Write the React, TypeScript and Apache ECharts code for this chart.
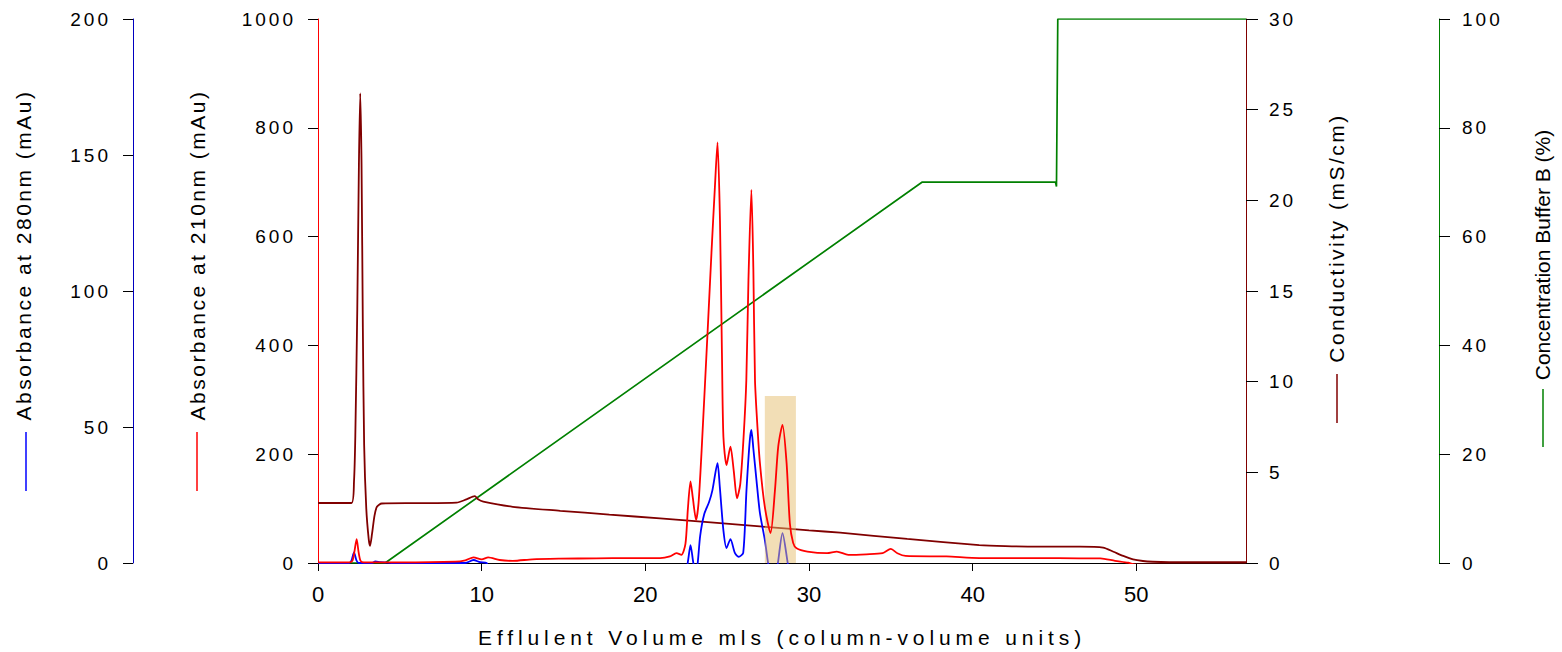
import React, { useEffect, useRef } from "react";
import * as echarts from "echarts";

// ---- data (x = effluent volume, y = value) ----
const xTicks = [0, 10, 20, 30, 40, 50];

const buffer: [number, number][] = [
  [0, 0], [4.1, 0], [36.9, 70], [45.06, 70], [45.12, 69.2], [45.2, 100], [56.7, 100],
];

const conductivity: [number, number][] = [
  [0, 3.31], [2.05, 3.31], [2.2, 4.5], [2.28, 7], [2.4, 14], [2.5, 22], [2.58, 25.9],
  [2.66, 22], [2.74, 13], [2.82, 6.5], [2.95, 3], [3.1, 1.3], [3.18, 0.95], [3.3, 1.6],
  [3.45, 2.6], [3.6, 3.1], [3.9, 3.28], [6, 3.3], [8.46, 3.33], [9.07, 3.51], [9.58, 3.69],
  [9.78, 3.51], [10.1, 3.38], [11.9, 3.1], [14.8, 2.88], [17.8, 2.67], [20.9, 2.46],
  [24, 2.24], [27, 2.02], [30, 1.8], [31.9, 1.67], [36, 1.33], [40.4, 0.99], [42, 0.93],
  [44, 0.9], [46.55, 0.9], [47.97, 0.85], [48.6, 0.62], [49.2, 0.39], [49.8, 0.2],
  [50.4, 0.11], [51, 0.07], [52, 0.05], [56.7, 0.05],
];

const abs210: [number, number][] = [
  [0, 1], [1.9, 1], [2.1, 4], [2.22, 20], [2.36, 44], [2.48, 20], [2.6, 4], [2.8, 1],
  [5, 1], [8.4, 2.4], [9.0, 5], [9.5, 10.5], [10.0, 6.8], [10.4, 10.5], [11.1, 5.5],
  [11.9, 4], [13.1, 6.8], [14.8, 7.9], [17, 8.5], [19, 9], [20.9, 9], [21.5, 12],
  [21.9, 18], [22.2, 15], [22.45, 35], [22.6, 100], [22.76, 150], [22.9, 120], [23.1, 79],
  [23.25, 110], [23.43, 202], [23.84, 447], [24.04, 570], [24.25, 691], [24.41, 773],
  [24.56, 630], [24.68, 386], [24.77, 232], [24.96, 180], [25.2, 214], [25.4, 170],
  [25.6, 119], [25.8, 145], [26.0, 230], [26.17, 336], [26.3, 520], [26.48, 686],
  [26.6, 540], [26.7, 336], [26.85, 250], [27.0, 184], [27.3, 103], [27.65, 55],
  [27.92, 134], [28.12, 214], [28.38, 254], [28.63, 184], [28.83, 73], [29.03, 37],
  [29.24, 27], [29.9, 21], [31.1, 18], [31.7, 21], [32.4, 15], [33.5, 16], [34.5, 18],
  [35.0, 26], [35.4, 18], [35.9, 13], [38.4, 12], [40.4, 9], [44, 9], [46.5, 8.6],
  [47.8, 8.6], [48.7, 4], [49.5, 0.5], [50, -3], [56.7, -3],
];

const abs280: [number, number][] = [
  [0, 0], [1.9, 0], [2.05, 1], [2.2, 3.9], [2.35, 1], [2.5, 0], [3.3, 0], [3.5, 0.6],
  [3.8, 0.3], [4.5, 0], [9.0, 0], [9.5, 1.1], [9.9, 0.3], [10.3, 0], [10.5, -3],
  [22.45, -3], [22.6, 0.5], [22.76, 6.6], [22.92, 0.5], [23.05, -3], [23.18, -1],
  [23.35, 10], [23.6, 18], [23.9, 22.5], [24.1, 26.8], [24.41, 36.7], [24.55, 28],
  [24.77, 12], [24.96, 5.5], [25.2, 8.8], [25.47, 3.7], [25.7, 2.3], [25.98, 3.7],
  [26.18, 26.8], [26.38, 45], [26.48, 48.9], [26.6, 42], [26.79, 30.5], [27.0, 18.4],
  [27.3, 8.5], [27.5, 0], [27.6, -3], [28.0, -3], [28.1, 0], [28.38, 11], [28.7, 0],
  [28.8, -3], [56.7, -3],
];

// shaded fraction (x from, x to, top on 210 nm scale)
const fraction = [27.3, 29.2, 307];

const css = `
text[style*="lsA"] { letter-spacing: 3px; }
text[style*="lsT"] { letter-spacing: 2.5px; }
text[style*="lsX"] { letter-spacing: 4.9px; }
`;

const fmt = (v: number) => String(v);
const yLabelLeft = { color: "#000", fontFamily: "Liberation Sans, lsA", fontSize: 19, margin: 22, formatter: fmt };
const yLabelRight = { color: "#000", fontFamily: "Liberation Sans, lsA", fontSize: 19, margin: 23, formatter: fmt };

function yAxis(position: string, offset: number, max: number, interval: number, color: string, tickLen: number) {
  return {
    type: "value",
    position,
    offset,
    min: 0,
    max,
    interval,
    axisLine: { show: true, onZero: false, lineStyle: { color, width: 1 } },
    axisTick: { show: true, length: tickLen, lineStyle: { color: "#000", width: 1 } },
    axisLabel: position === "left" ? yLabelLeft : yLabelRight,
    splitLine: { show: false },
  };
}

export default function App() {
  const ref = useRef<HTMLDivElement>(null);
  useEffect(() => {
    if (!ref.current) return;
    const chart = echarts.init(ref.current, null, { renderer: "svg" });
    const titleStyle = (text: string, family: string) => ({
      text,
      fontSize: 21,
      fontFamily: family,
      fill: "#000",
      align: "center",
      verticalAlign: "middle",
    });
    const curve = { symbol: "none", smooth: 0.25 };
    chart.setOption({
      animation: false,
      backgroundColor: "#fff",
      grid: { left: 318, right: 316, top: 19, bottom: 89, containLabel: false, outerBoundsMode: "none" },
      xAxis: {
        type: "value",
        min: 0,
        max: 56.7,
        interval: 10,
        axisLine: { show: true, onZero: false, lineStyle: { color: "#000", width: 1 } },
        axisTick: { show: true, length: 8, lineStyle: { color: "#000" }, customValues: xTicks },
        axisLabel: { color: "#000", fontSize: 22, fontFamily: "Liberation Sans", margin: 20, customValues: xTicks, formatter: fmt },
        splitLine: { show: false },
        name: "Efflulent Volume mls (column-volume units)",
        nameLocation: "middle",
        nameGap: 64,
        nameTextStyle: { fontSize: 21, color: "#000", fontFamily: "Liberation Sans, lsX" },
      },
      yAxis: [
        yAxis("left", 185, 200, 50, "#0000c0", 10),
        yAxis("left", 0, 1000, 200, "#ff0000", 10),
        yAxis("right", 0, 30, 5, "#800000", 12),
        yAxis("right", 193, 100, 20, "#008000", 11),
      ],
      series: [
        {
          type: "line", yAxisIndex: 3, data: buffer, symbol: "none", z: 2,
          lineStyle: { color: "#008000", width: 1.7 }, itemStyle: { color: "#008000" },
        },
        {
          type: "line", yAxisIndex: 2, data: conductivity, ...curve, z: 2,
          lineStyle: { color: "#800000", width: 1.8 }, itemStyle: { color: "#800000" },
        },
        {
          type: "line", yAxisIndex: 0, data: abs280, ...curve, z: 2,
          lineStyle: { color: "#0000ff", width: 1.8 }, itemStyle: { color: "#0000ff" },
        },
        {
          type: "line", yAxisIndex: 1, data: abs210, ...curve, z: 4,
          lineStyle: { color: "#ff0000", width: 1.8 }, itemStyle: { color: "#ff0000" },
          markArea: {
            silent: true,
            z: 3,
            itemStyle: { color: "rgba(230,190,110,0.5)" },
            data: [[{ xAxis: fraction[0], yAxis: 0 }, { xAxis: fraction[1], yAxis: fraction[2] }]],
          },
        },
      ],
      graphic: [
        { type: "text", x: 23, y: 255, rotation: Math.PI / 2, style: titleStyle("Absorbance at 280nm (mAu)", "Liberation Sans, lsT") },
        { type: "text", x: 197, y: 255, rotation: Math.PI / 2, style: titleStyle("Absorbance at 210nm (mAu)", "Liberation Sans, lsT") },
        { type: "text", x: 1336, y: 238, rotation: Math.PI / 2, style: titleStyle("Conductivity (mS/cm)", "Liberation Sans, lsT") },
        { type: "text", x: 1542, y: 255, rotation: Math.PI / 2, style: titleStyle("Concentration Buffer B (%)", "Liberation Sans") },
        { type: "line", shape: { x1: 26, y1: 432, x2: 26, y2: 491 }, style: { stroke: "#0000ff", lineWidth: 1.5 } },
        { type: "line", shape: { x1: 197, y1: 432, x2: 197, y2: 491 }, style: { stroke: "#ff0000", lineWidth: 1.5 } },
        { type: "line", shape: { x1: 1337, y1: 374, x2: 1337, y2: 423 }, style: { stroke: "#800000", lineWidth: 1.5 } },
        { type: "line", shape: { x1: 1543, y1: 389, x2: 1543, y2: 447 }, style: { stroke: "#008000", lineWidth: 1.5 } },
      ],
    });
    return () => chart.dispose();
  }, []);
  return (
    <>
      <style>{css}</style>
      <div ref={ref} style={{ position: "absolute", left: 0, top: 0, width: 1562, height: 652 }} />
    </>
  );
}
